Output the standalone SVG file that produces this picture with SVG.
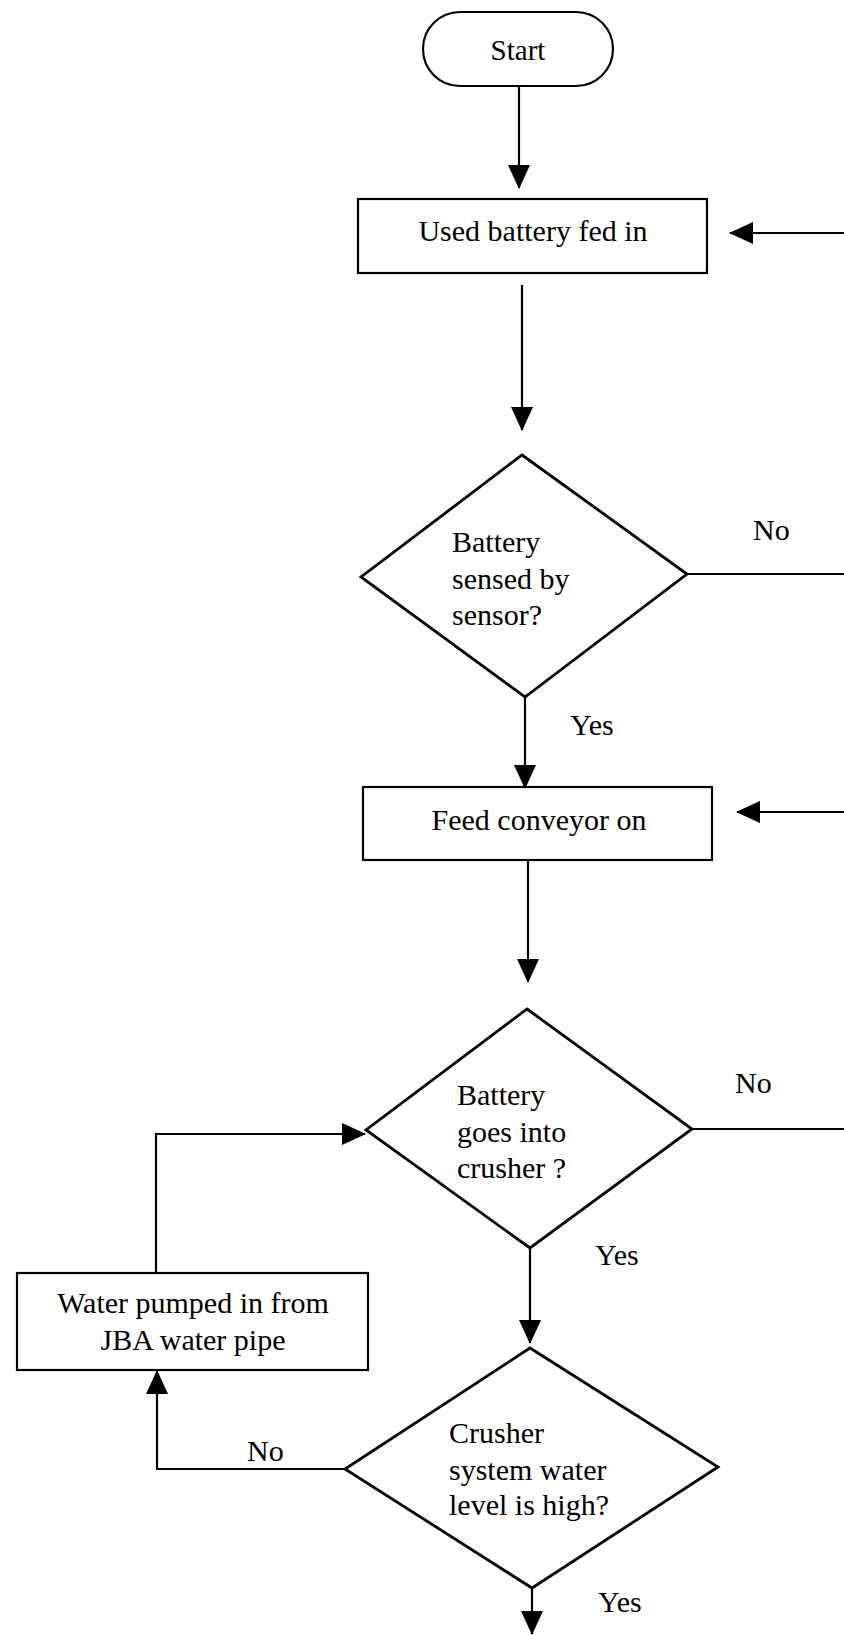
<svg xmlns="http://www.w3.org/2000/svg" width="844" height="1635" viewBox="0 0 844 1635">
<style>
text{font-family:"Liberation Serif","Times New Roman",serif;font-size:30px;fill:#000}
.c{text-anchor:middle}
.shape{fill:#fff;stroke:#000;stroke-width:2.2}
.dia{fill:#fff;stroke:#000;stroke-width:2.8}
.ln{fill:none;stroke:#000;stroke-width:2.2}
</style>
<defs>
<marker id="ah" markerUnits="userSpaceOnUse" markerWidth="24" markerHeight="22" refX="23" refY="11" orient="auto">
<path d="M0,0 L24,11 L0,22 z" fill="#000"/>
</marker>
</defs>
<rect width="844" height="1635" fill="#fff"/>
<g id="connectors">
<line class="ln" x1="519" y1="86" x2="519" y2="188" marker-end="url(#ah)"/>
<line class="ln" x1="844" y1="233" x2="730" y2="233" marker-end="url(#ah)"/>
<line class="ln" x1="522" y1="285" x2="522" y2="430" marker-end="url(#ah)"/>
<line class="ln" x1="687" y1="574" x2="844" y2="574"/>
<line class="ln" x1="525" y1="697" x2="525" y2="788" marker-end="url(#ah)"/>
<line class="ln" x1="844" y1="812" x2="737" y2="812" marker-end="url(#ah)"/>
<line class="ln" x1="528" y1="860" x2="528" y2="982" marker-end="url(#ah)"/>
<line class="ln" x1="692" y1="1129" x2="844" y2="1129"/>
<polyline class="ln" points="156,1273 156,1134 365,1134" marker-end="url(#ah)"/>
<line class="ln" x1="530" y1="1248" x2="530" y2="1343" marker-end="url(#ah)"/>
<polyline class="ln" points="345,1469 157,1469 157,1371" marker-end="url(#ah)"/>
<line class="ln" x1="532" y1="1588" x2="532" y2="1634" marker-end="url(#ah)"/>
<text x="753" y="540">No</text>
<text x="570" y="735">Yes</text>
<text x="735" y="1093">No</text>
<text x="595" y="1265">Yes</text>
<text x="247" y="1461">No</text>
<text x="598" y="1612">Yes</text>
</g>
<g id="start">
<rect class="shape" x="423" y="12" width="190" height="74" rx="37" ry="37"/>
<text class="c" x="518" y="60" style="font-size:29px">Start</text>
</g>
<g id="used-battery">
<rect class="shape" x="358" y="199" width="349" height="74"/>
<text class="c" x="533" y="241">Used battery fed in</text>
</g>
<g id="sensed">
<polygon class="dia" points="522,455 687,574 525,697 361,577"/>
<text x="452" y="552">Battery</text>
<text x="452" y="589">sensed by</text>
<text x="452" y="625">sensor?</text>
</g>
<g id="feed-conveyor">
<rect class="shape" x="363" y="787" width="349" height="73"/>
<text class="c" x="539" y="830">Feed conveyor on</text>
</g>
<g id="crusher">
<polygon class="dia" points="527,1009 692,1129 530,1248 366,1130"/>
<text x="457" y="1105">Battery</text>
<text x="457" y="1142">goes into</text>
<text x="457" y="1178">crusher ?</text>
</g>
<g id="water-pump">
<rect class="shape" x="17" y="1273" width="351" height="97"/>
<text class="c" x="193" y="1313">Water pumped in from</text>
<text class="c" x="193" y="1350">JBA water pipe</text>
</g>
<g id="water-level">
<polygon class="dia" points="530,1348 718,1467 532,1588 345,1469"/>
<text x="449" y="1443">Crusher</text>
<text x="449" y="1480">system water</text>
<text x="449" y="1515">level is high?</text>
</g>
</svg>
